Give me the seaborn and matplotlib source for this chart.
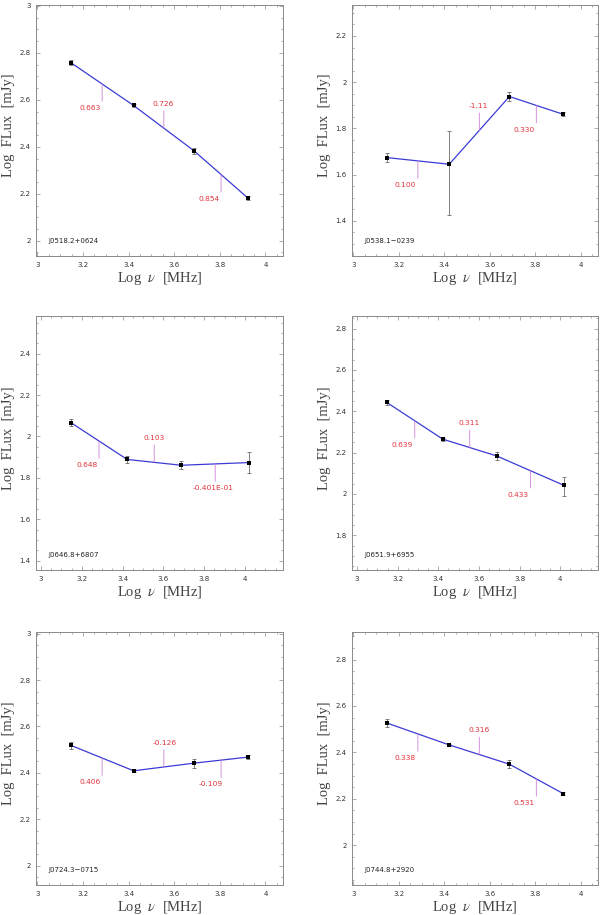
import matplotlib
matplotlib.use("Agg")
import matplotlib.pyplot as plt
import matplotlib.ticker as mticker
import seaborn as sns
import pandas as pd

# source names
names = ["J0518.2+0624", "J0538.1\u22120239", "J0646.8+6807",
         "J0651.9+6955", "J0724.3\u22120715", "J0744.8+2920"]

# log frequency of each point
freq_a = [3.146, 3.422, 3.687, 3.924]
freq_b = [3.146, 3.422, 3.687, 4.020]

# log flux and (lower, upper) errors
flux_1 = [2.759, 2.576, 2.383, 2.181]
elo_1 = [0.012, 0.005, 0.013, 0.008]
ehi_1 = [0.012, 0.005, 0.013, 0.008]

flux_2 = [1.674, 1.645, 1.938, 1.861]
elo_2 = [0.019, 0.218, 0.020, 0.008]
ehi_2 = [0.018, 0.146, 0.018, 0.008]

flux_3 = [2.067, 1.889, 1.861, 1.874]
elo_3 = [0.016, 0.018, 0.020, 0.051]
ehi_3 = [0.016, 0.018, 0.020, 0.050]

flux_4 = [2.443, 2.265, 2.184, 2.041]
elo_4 = [0.013, 0.008, 0.021, 0.052]
ehi_4 = [0.013, 0.008, 0.021, 0.043]

flux_5 = [2.519, 2.409, 2.442, 2.468]
elo_5 = [0.016, 0.005, 0.019, 0.007]
ehi_5 = [0.016, 0.005, 0.019, 0.007]

flux_6 = [2.527, 2.432, 2.349, 2.222]
elo_6 = [0.017, 0.006, 0.017, 0.008]
ehi_6 = [0.017, 0.006, 0.017, 0.008]

# spectral index between neighbouring points
index_1 = ["0.663", "0.726", "0.854"]
index_2 = ["0.100", "-1.11", "0.330"]
index_3 = ["0.648", "0.103", "-0.401E-01"]
index_4 = ["0.639", "0.311", "0.433"]
index_5 = ["0.406", "-0.126", "-0.109"]
index_6 = ["0.338", "0.316", "0.531"]

panels = [
    (names[0], freq_a, flux_1, elo_1, ehi_1, index_1),
    (names[1], freq_a, flux_2, elo_2, ehi_2, index_2),
    (names[2], freq_b, flux_3, elo_3, ehi_3, index_3),
    (names[3], freq_b, flux_4, elo_4, ehi_4, index_4),
    (names[4], freq_a, flux_5, elo_5, ehi_5, index_5),
    (names[5], freq_a, flux_6, elo_6, ehi_6, index_6),
]

# axis limits per panel
xlims = [(2.994, 4.077), (2.994, 4.077), (2.975, 4.186),
         (2.975, 4.186), (2.994, 4.077), (2.994, 4.077)]
ylims = [(1.935, 3.004), (1.248, 2.334), (1.355, 2.582),
         (1.632, 2.861), (1.917, 3.007), (1.828, 2.919)]

sns.set_style("ticks")
plt.rcParams["font.family"] = ["DejaVu Sans"]
plt.rcParams["mathtext.fontset"] = "stix"

fig = plt.figure(figsize=(6, 9.15), dpi=100)

W, H = 600, 915
# axes boxes in pixels: left, top, right, bottom
boxes = [(36, 5, 283, 256), (352, 5, 598, 256),
         (36, 316, 283, 570), (352, 316, 598, 570),
         (36, 632, 283, 885), (352, 632, 598, 885)]

grey = "#8a8a8a"
for i, (name, xs, ys, lo, hi, idx) in enumerate(panels):
    l, t, r, b = boxes[i]
    ax = fig.add_axes([l / W, 1 - b / H, (r - l) / W, (b - t) / H])
    df = pd.DataFrame({"x": xs, "y": ys})

    ax.errorbar(xs, ys, yerr=[lo, hi], fmt="none", ecolor="#6a6a6a",
                elinewidth=0.6, capsize=1.6, capthick=0.6, zorder=2)
    sns.lineplot(data=df, x="x", y="y", ax=ax, color="#3b3bd4",
                 linewidth=0.9, zorder=3)
    sns.scatterplot(data=df, x="x", y="y", ax=ax, color="black",
                    marker="s", s=6, linewidth=0, zorder=4)

    # spectral index markers
    for k, lab in enumerate(idx):
        xm = (xs[k] + xs[k + 1]) / 2
        ym = (ys[k] + ys[k + 1]) / 2
        sign = -1 if k % 2 == 0 else 1
        ax.annotate("", xy=(xm, ym), xytext=(0, sign * 12.5),
                    textcoords="offset points",
                    arrowprops=dict(arrowstyle="-", color="#cf80dc",
                                    lw=0.6, shrinkA=0, shrinkB=0))
        dx = -16.5 if sign < 0 else -8
        ax.annotate(lab, xy=(xm, ym), xytext=(dx, sign * 17.5),
                    textcoords="offset points", ha="left", va="center",
                    color="#e0353c", fontsize=5.4)

    ax.text(0.05, 0.06, name, transform=ax.transAxes, fontsize=5.0,
            color="#222222", ha="left", va="center")

    ax.set_xlim(*xlims[i])
    ax.set_ylim(*ylims[i])
    ax.xaxis.set_major_locator(mticker.MultipleLocator(0.2))
    ax.xaxis.set_minor_locator(mticker.MultipleLocator(0.05))
    ax.yaxis.set_major_locator(mticker.MultipleLocator(0.2))
    ax.yaxis.set_minor_locator(mticker.MultipleLocator(0.05))
    fmt = mticker.FuncFormatter(lambda v, p: "%g" % round(v, 2))
    ax.xaxis.set_major_formatter(fmt)
    ax.yaxis.set_major_formatter(fmt)
    ax.tick_params(which="both", direction="in", top=True, right=True,
                   color=grey, width=0.5)
    ax.tick_params(which="major", length=3.2, labelsize=5, pad=4,
                   labelcolor="#333333")
    ax.tick_params(which="minor", length=1.6)
    for sp in ax.spines.values():
        sp.set_color(grey)
        sp.set_linewidth(0.7)

    ax.set_xlabel(r"Log  $\nu$  [MHz]", family="Liberation Serif",
                  fontsize=10.5, color="#444444")
    ax.set_ylabel("Log  FLux  [mJy]", family="Liberation Serif",
                  fontsize=10.5, color="#444444")
    ax.xaxis.set_label_coords(0.5, -0.055)
    ax.yaxis.set_label_coords(-0.085, 0.52)

fig.savefig("out.png", dpi=100)
